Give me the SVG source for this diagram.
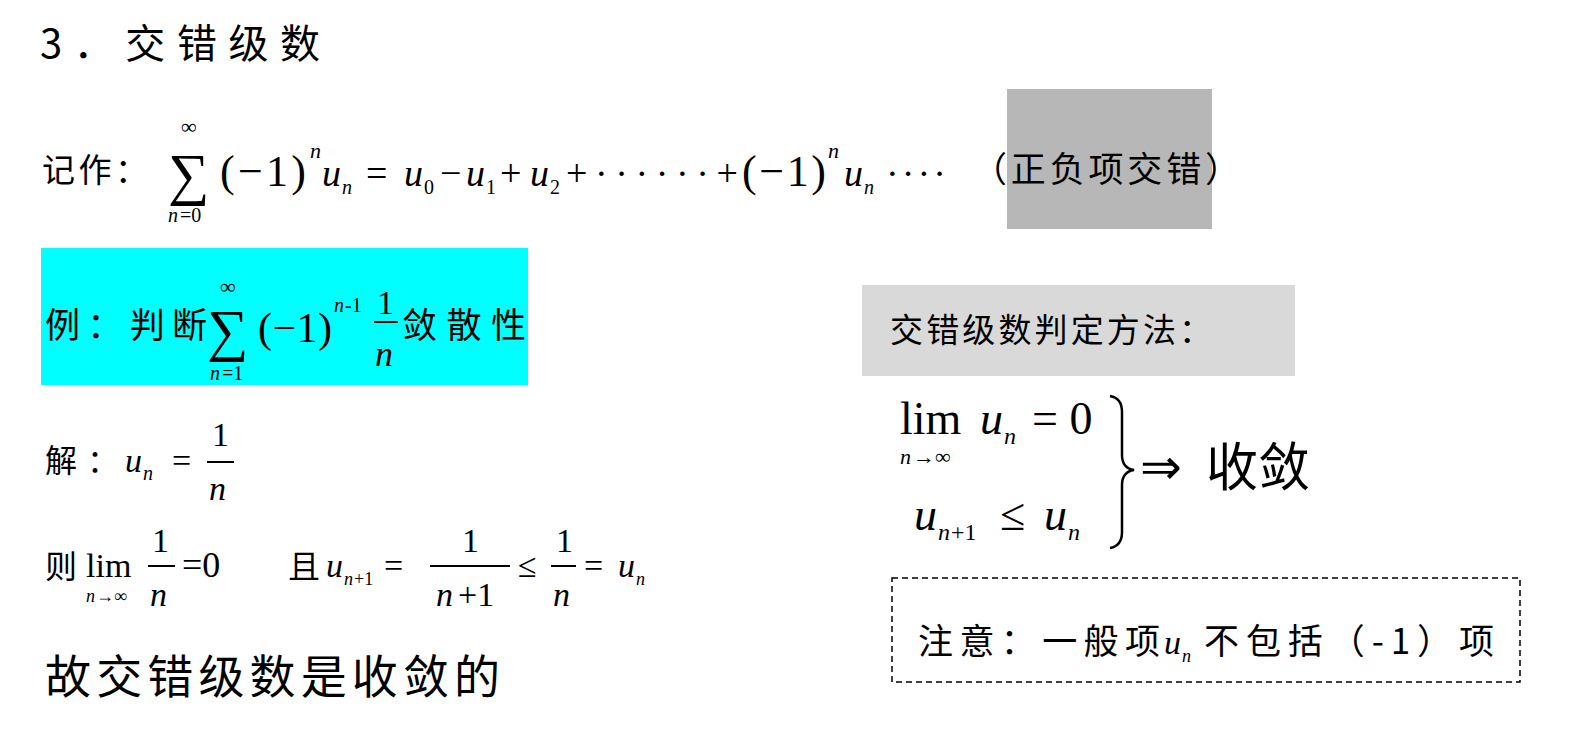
<svg xmlns="http://www.w3.org/2000/svg" width="1596" height="744" viewBox="0 0 1596 744">
<style>
.cn{font-family:"Noto Sans CJK SC",sans-serif;fill:#000}
.m{font-family:"Liberation Serif",serif;fill:#000}
.i{font-family:"Liberation Serif",serif;font-style:italic;fill:#000}
.fl{stroke:#000;stroke-width:2}
</style>
<rect width="1596" height="744" fill="#fff"/>
<g id="title"><text class="cn" x="40" y="58" font-size="40" textLength="280" lengthAdjust="spacing">3．交错级数</text></g>
<g id="grayBox"><rect x="1007" y="89" width="205" height="140" fill="#b7b7b7"/></g>
<g id="notation">
<text class="cn" x="42" y="182" font-size="33" textLength="106" lengthAdjust="spacing">记作：</text>
<text class="m" x="168" y="194" font-size="58">∑</text>
<text class="m" x="181" y="134" font-size="22">∞</text>
<text class="i" x="168" y="222" font-size="20">n</text><text class="m" x="180" y="222" font-size="20">=0</text>
<text class="m" x="220" y="186" font-size="44" textLength="86" lengthAdjust="spacing">(−1)</text><text class="i" x="310" y="158" font-size="22">n</text>
<text class="i" x="322" y="186" font-size="38">u</text><text class="i" x="342" y="194" font-size="20">n</text>
<text class="m" x="366" y="186" font-size="38">=</text>
<text class="i" x="404" y="186" font-size="38">u</text><text class="m" x="424" y="194" font-size="20">0</text>
<text class="m" x="440" y="186" font-size="38">−</text>
<text class="i" x="466" y="186" font-size="38">u</text><text class="m" x="486" y="194" font-size="20">1</text>
<text class="m" x="500" y="186" font-size="38">+</text>
<text class="i" x="530" y="186" font-size="38">u</text><text class="m" x="550" y="194" font-size="20">2</text>
<text class="m" x="566" y="186" font-size="38" textLength="172" lengthAdjust="spacing">+······+</text>
<text class="m" x="742" y="186" font-size="44" textLength="84" lengthAdjust="spacing">(−1)</text><text class="i" x="828" y="158" font-size="22">n</text>
<text class="i" x="844" y="186" font-size="38">u</text><text class="i" x="864" y="194" font-size="20">n</text>
<text class="m" x="886" y="186" font-size="38" textLength="60" lengthAdjust="spacing">····</text>
<text class="cn" x="972" y="182" font-size="35" textLength="268" lengthAdjust="spacing">（正负项交错）</text>
</g>
<g id="example">
<rect x="41" y="248" width="487" height="137" fill="#00ffff"/>
<text class="cn" x="45" y="338" font-size="35" textLength="162" lengthAdjust="spacing">例：判断</text>
<text class="m" x="207" y="350" font-size="58">∑</text>
<text class="m" x="220" y="294" font-size="22">∞</text>
<text class="i" x="210" y="380" font-size="20">n</text><text class="m" x="222" y="380" font-size="20">=1</text>
<text class="m" x="258" y="342" font-size="42" textLength="74" lengthAdjust="spacing">(−1)</text><text class="i" x="334" y="312" font-size="20">n</text><text class="m" x="345" y="312" font-size="20">-1</text>
<text class="m" x="377" y="314" font-size="34">1</text>
<line class="fl" x1="374" y1="322" x2="398" y2="322"/>
<text class="i" x="375" y="366" font-size="36">n</text>
<text class="cn" x="402" y="338" font-size="35" textLength="124" lengthAdjust="spacing">敛散性</text>
</g>
<g id="solution">
<text class="cn" x="45" y="472" font-size="32" textLength="74" lengthAdjust="spacing">解：</text>
<text class="i" x="125" y="472" font-size="34">u</text><text class="i" x="143" y="480" font-size="20">n</text>
<text class="m" x="172" y="472" font-size="34">=</text>
<text class="m" x="212" y="446" font-size="34">1</text>
<line class="fl" x1="207" y1="462" x2="234" y2="462"/>
<text class="i" x="209" y="500" font-size="34">n</text>
</g>
<g id="then">
<text class="cn" x="45" y="578" font-size="32">则</text>
<text class="m" x="86" y="577" font-size="34">lim</text>
<text class="i" x="86" y="602" font-size="18">n</text><text class="m" x="96" y="602" font-size="18">→∞</text>
<text class="m" x="152" y="552" font-size="34">1</text>
<line class="fl" x1="148" y1="566" x2="175" y2="566"/>
<text class="i" x="150" y="606" font-size="34">n</text>
<text class="m" x="182" y="577" font-size="36">=0</text>
<text class="cn" x="288" y="578" font-size="32">且</text>
<text class="i" x="326" y="577" font-size="34">u</text><text class="i" x="344" y="585" font-size="18">n</text><text class="m" x="354" y="585" font-size="18">+1</text>
<text class="m" x="384" y="577" font-size="34">=</text>
<text class="m" x="462" y="552" font-size="34">1</text>
<line class="fl" x1="430" y1="566" x2="510" y2="566"/>
<text class="i" x="436" y="606" font-size="34">n</text><text class="m" x="458" y="606" font-size="34">+1</text>
<text class="m" x="518" y="577" font-size="34">≤</text>
<text class="m" x="556" y="552" font-size="34">1</text>
<line class="fl" x1="551" y1="566" x2="576" y2="566"/>
<text class="i" x="553" y="606" font-size="34">n</text>
<text class="m" x="584" y="577" font-size="34">=</text>
<text class="i" x="618" y="577" font-size="34">u</text><text class="i" x="636" y="585" font-size="18">n</text>
</g>
<g id="conclusion"><text class="cn" x="45" y="693" font-size="46" textLength="455" lengthAdjust="spacing">故交错级数是收敛的</text></g>
<g id="method">
<rect x="862" y="285" width="433" height="91" fill="#d9d9d9"/>
<text class="cn" x="890" y="342" font-size="33" textLength="322" lengthAdjust="spacing">交错级数判定方法：</text>
</g>
<g id="criterion">
<text class="m" x="900" y="434" font-size="46">lim</text>
<text class="i" x="900" y="464" font-size="22">n</text><text class="m" x="913" y="464" font-size="22">→∞</text>
<text class="i" x="980" y="434" font-size="46">u</text><text class="i" x="1004" y="444" font-size="24">n</text>
<text class="m" x="1032" y="434" font-size="46">= 0</text>
<text class="i" x="914" y="530" font-size="46">u</text><text class="i" x="938" y="540" font-size="24">n</text><text class="m" x="951" y="540" font-size="24">+1</text>
<text class="m" x="1000" y="530" font-size="46">≤</text>
<text class="i" x="1044" y="530" font-size="46">u</text><text class="i" x="1068" y="540" font-size="24">n</text>
<path d="M1110 396 Q1122 398 1122 412 L1122 455 Q1122 468 1134 470 Q1122 472 1122 485 L1122 532 Q1122 546 1110 548" fill="none" stroke="#000" stroke-width="2.5"/>
<text class="m" x="1140" y="484" font-size="50">⇒</text>
<text class="cn" x="1206" y="486" font-size="52" textLength="104" lengthAdjust="spacing">收敛</text>
</g>
<g id="note">
<rect x="892" y="578" width="628" height="104" fill="none" stroke="#000" stroke-width="1.5" stroke-dasharray="6,4"/>
<text class="cn" x="918" y="654" font-size="35" textLength="242" lengthAdjust="spacing">注意：一般项</text>
<text class="i" x="1164" y="654" font-size="34">u</text><text class="i" x="1182" y="662" font-size="18">n</text>
<text class="cn" x="1204" y="654" font-size="35" textLength="290" lengthAdjust="spacing">不包括（-1）项</text>
</g>
</svg>
